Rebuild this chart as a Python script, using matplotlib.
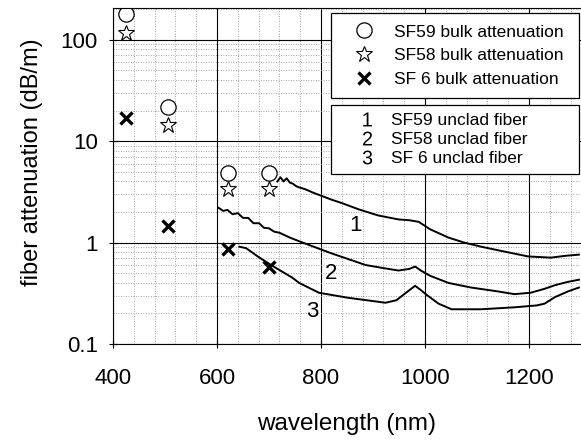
import matplotlib
matplotlib.use("Agg")
import matplotlib.pyplot as plt
from matplotlib.lines import Line2D
from matplotlib.ticker import MultipleLocator, LogLocator, NullFormatter, FixedLocator

plt.rcParams['font.family'] = ['Liberation Sans', 'DejaVu Sans']
plt.rcParams['mathtext.fontset'] = 'custom'
plt.rcParams['mathtext.rm'] = 'Liberation Sans'
plt.rcParams['mathtext.default'] = 'regular'

# bulk attenuation measurements (dB/m)
bulk_wl = [425, 505, 622, 700]
sf59_bulk = [177, 21.5, 4.9, 4.9]
sf58_bulk = [117, 14.5, 3.35, 3.35]
sf6_bulk = [17.0, 1.45, 0.86, 0.58]

# unclad fiber spectra
wl_sf59 = [716, 722, 728, 734, 740, 746, 752, 758, 770, 785, 800, 820, 840, 873,
           910, 949, 970, 988, 1010, 1045, 1075, 1108, 1150, 1198, 1242, 1270, 1296]
att_sf59 = [4.0, 4.4, 4.0, 4.3, 3.9, 3.8, 3.6, 3.5, 3.35, 3.1, 2.9, 2.65, 2.45, 2.12,
            1.85, 1.69, 1.66, 1.6, 1.35, 1.12, 1.0, 0.91, 0.82, 0.73, 0.71, 0.74, 0.76]

wl_sf58 = [603, 612, 620, 630, 640, 650, 660, 670, 681, 690, 700, 710, 720, 740, 758,
           796, 821, 855, 886, 920, 949, 970, 981, 992, 1010, 1045, 1089, 1140, 1172,
           1203, 1230, 1250, 1275, 1296]
att_sf58 = [2.2, 2.05, 2.1, 1.9, 1.95, 1.75, 1.75, 1.55, 1.55, 1.4, 1.38, 1.28, 1.25, 1.12,
            1.03, 0.87, 0.78, 0.68, 0.6, 0.56, 0.53, 0.55, 0.58, 0.53, 0.47, 0.40, 0.36,
            0.33, 0.31, 0.32, 0.35, 0.38, 0.41, 0.43]

wl_sf6 = [643, 656, 680, 704, 745, 758, 796, 853, 900, 924, 945, 960, 981, 992, 1005,
          1026, 1051, 1108, 1172, 1215, 1230, 1250, 1275, 1296]
att_sf6 = [0.91, 0.88, 0.72, 0.60, 0.45, 0.40, 0.32, 0.285, 0.265, 0.255, 0.27, 0.31,
           0.375, 0.34, 0.30, 0.25, 0.22, 0.22, 0.23, 0.24, 0.25, 0.29, 0.33, 0.36]

curve_labels = ["1", "2", "3"]
curve_label_pos = [(867, 1.47), (819, 0.49), (783, 0.207)]

bulk_names = ["SF59 bulk attenuation", "SF58 bulk attenuation", "SF 6 bulk attenuation"]
fiber_names = ["SF59 unclad fiber", "SF58 unclad fiber", "SF 6 unclad fiber"]

fig = plt.figure(figsize=(5.81, 4.46), dpi=100)
ax = fig.add_axes([0.1945, 0.2287, 0.8055, 0.7533])

ax.set_yscale('log')
ax.set_xlim(400, 1300)
ax.set_ylim(0.1, 205)

ax.xaxis.set_major_locator(MultipleLocator(200))
ax.xaxis.set_minor_locator(MultipleLocator(40))
ax.yaxis.set_major_locator(FixedLocator([0.1, 1, 10, 100]))
ax.yaxis.set_minor_locator(LogLocator(base=10, subs=range(2, 10)))
ax.yaxis.set_minor_formatter(NullFormatter())
ax.set_yticklabels(["0.1", "1", "10", "100"])

ax.grid(which='major', color='black', linewidth=0.8, linestyle='-')
ax.grid(which='minor', color='#888888', linewidth=0.6, linestyle=(0, (1, 2)))
ax.tick_params(which='major', direction='inout', length=6, labelsize=16)
ax.tick_params(axis='x', pad=14)
ax.tick_params(axis='y', pad=8)
ax.tick_params(which='minor', length=0)
ax.spines['right'].set_visible(False)
ax.set_axisbelow(True)

ax.plot(wl_sf59, att_sf59, color='black', lw=1.4)
ax.plot(wl_sf58, att_sf58, color='black', lw=1.4)
ax.plot(wl_sf6, att_sf6, color='black', lw=1.4)

for lab, (xx, yy) in zip(curve_labels, curve_label_pos):
    ax.text(xx, yy, lab, fontsize=16, ha='center', va='center')

h1, = ax.plot(bulk_wl, sf59_bulk, 'o', ms=11, mfc='white', mec='black', mew=0.9, ls='none')
h2, = ax.plot(bulk_wl, sf58_bulk, '*', ms=12, mfc='white', mec='black', mew=0.8, ls='none')
h3, = ax.plot(bulk_wl, sf6_bulk, 'x', ms=8, mec='black', mew=2.4, ls='none')

ax.set_xlabel("wavelength (nm)", fontsize=17.5)
ax.set_ylabel("fiber attenuation (dB/m)", fontsize=17)
ax.xaxis.set_label_coords(0.498, -0.205)
ax.yaxis.set_label_coords(-0.15, 0.54)

leg1 = ax.legend([h1, h2, h3], bulk_names,
                 loc='upper left', bbox_to_anchor=(0.466, 0.985, 0.53, 0.0),
                 mode='expand', fontsize=12.5, frameon=True, fancybox=False,
                 edgecolor='black', framealpha=1, handlelength=2.5, handletextpad=0.45,
                 labelspacing=0.5, borderpad=0.65, borderaxespad=0)
leg1.get_frame().set_linewidth(0.9)
ax.add_artist(leg1)

num_handles = [Line2D([], [], marker='$%s$' % n, color='black', ms=10, mew=0, ls='none')
               for n in curve_labels]
leg2 = ax.legend(num_handles, fiber_names,
                 loc='upper left', bbox_to_anchor=(0.466, 0.712, 0.53, 0.0),
                 mode='expand', fontsize=12.5, frameon=True, fancybox=False,
                 edgecolor='black', framealpha=1, handlelength=3.2, handletextpad=-0.2,
                 labelspacing=0.22, borderpad=0.45, borderaxespad=0)
leg2.get_frame().set_linewidth(0.9)

fig.savefig("out.png", dpi=100)
